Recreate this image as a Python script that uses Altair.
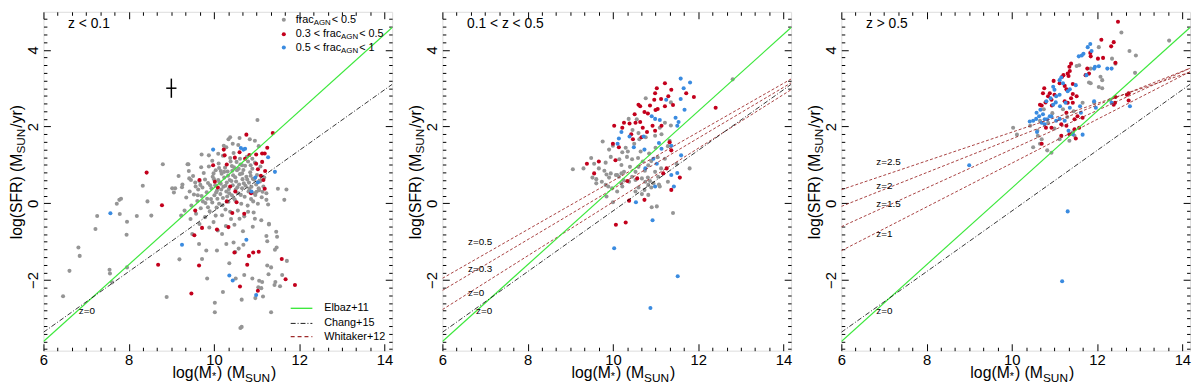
import altair as alt
import pandas as pd

FONT = "Liberation Sans"
X_DOMAIN = [6.0, 14.18]
Y_DOMAIN = [-3.84, 4.99]
W, H = 354, 344

X_MAJOR = [6, 8, 10, 12, 14]
X_MINOR = [6.333, 6.667, 7, 7.333, 7.667, 8.333, 8.667, 9, 9.333, 9.667,
           10.333, 10.667, 11, 11.333, 11.667, 12.333, 12.667, 13, 13.333, 13.667]
Y_MAJOR = [-2, 0, 2, 4]
Y_MINOR = [-3.8, -3.6, -3.4, -3.2, -3, -2.8, -2.6, -2.4, -2.2, -1.8, -1.6, -1.4, -1.2, -1,
           -0.8, -0.6, -0.4, -0.2, 0.2, 0.4, 0.6, 0.8, 1, 1.2, 1.4, 1.6, 1.8, 2.2, 2.4, 2.6,
           2.8, 3, 3.2, 3.4, 3.6, 3.8, 4.2, 4.4, 4.6, 4.8]

GRAY = "#959595"
RED = "#c3001c"
BLUE = "#3a8be0"
GREEN = "#3ee83e"
WRED = "#9e2b2b"
NB = "\u00a0"

# ---------------- panel 1 : z < 0.1 ----------------
GRAY1 = [
    (6.46, -2.42), (6.61, -1.76), (6.82, -1.15), (6.85, -1.37), (7.22, -0.67), (7.26, -0.33),
    (7.55, -1.73), (7.56, -1.83), (7.61, -2.06), (7.72, -0.01), (7.78, 0.09), (7.79, -0.28),
    (7.82, 0.12), (7.95, -0.82), (7.96, -0.48), (7.96, -1.67), (8.19, -0.33), (8.33, 0.46),
    (8.44, 0.05), (8.53, -0.32), (8.8, 1.02), (8.89, -2.44), (9.02, 0.39), (9.17, 0.71),
    (9.19, -1.46), (9.23, -0.32), (9.25, 0.42), (9.38, 1.02), (9.46, 0.61), (9.49, -0.8),
    (9.65, -1.06), (9.71, 1.27), (9.72, -1.45), (9.82, -1.23), (9.84, -1.96), (9.88, 1.25),
    (10.02, -2.59), (10.02, -2.84), (10.07, -1.23), (10.19, -0.8), (10.21, -2.31), (10.29, -1.06),
    (10.36, -1.56), (10.46, -1.02), (10.5, -1.27), (10.51, -1.96), (10.58, -1.18), (10.62, -3.25),
    (10.65, -3.22), (10.65, -2.51), (10.69, -1.08), (10.71, -1.87), (10.9, -1.96), (10.97, -2.47),
    (11.04, -2.19), (11.06, -2.02), (11.11, -2.21), (11.13, -2.05), (11.15, -2.43), (11.23, -0.85),
    (11.25, -0.99), (11.25, -1.62), (11.28, -1.85), (11.29, -0.55), (11.34, -1.67), (11.34, -2.84),
    (11.42, -2.13), (11.43, -1.21), (11.44, -2.05), (11.46, -0.74), (11.47, -1.15), (11.48, -0.87),
    (11.55, -2.16), (11.6, -1.87), (11.65, 0.09), (11.7, 0.36), (11.71, -1.5), (11.5, 0.38),
    (11.23, 0.09), (11.23, 0.26), (11.27, -0.03), (11.29, -0.53), (11.05, 0.39), (10.92, 0.05),
    (10.97, 0.22), (11.02, 2.17), (10.38, 1.72), (10.34, 1.67), (10.6, 1.7), (10.84, 1.67),
    (10.96, 1.63), (10.23, 1.5), (10.44, 1.55), (10.57, 1.52), (10.29, 1.46), (11.05, 1.49),
    (10.1, 1.29), (10.38, 1.18), (10.53, 1.08), (10.66, 0.99), (10.8, 1.09), (10.9, 1.16),
    (10.96, 1.06), (10.42, 0.97), (10.16, 0.84), (9.4, 1.02), (9.09, 0.39), (9.06, 0.28),
    (9.42, 0.65), (9.56, 0.54),
    (9.35, 0.15), (9.43, 0.31), (9.47, -0.06), (9.53, 0.23), (9.57, 0.44), (9.58, -0.27),
    (9.61, 0.06), (9.63, 0.36), (9.66, 0.58), (9.69, -0.13), (9.71, 0.19), (9.73, 0.41),
    (9.76, 0.79), (9.79, -0.36), (9.8, 0.01), (9.83, 0.29), (9.86, 0.53), (9.88, 0.96),
    (9.9, -0.21), (9.93, 0.11), (9.94, 0.39), (9.97, 0.69), (9.99, -0.49), (10.01, 0.21),
    (10.03, 0.47), (10.04, 0.86), (10.06, -0.11), (10.07, 0.33), (10.1, 0.61), (10.11, 1.04),
    (10.12, -0.01), (10.15, 0.24), (10.16, 0.51), (10.18, 0.77), (10.19, -0.31), (10.21, 0.14),
    (10.22, 0.43), (10.24, 0.67), (10.26, 0.93), (10.27, -0.16), (10.29, 0.31), (10.3, 0.54),
    (10.32, 0.83), (10.34, 0.04), (10.35, 0.37), (10.37, 0.61), (10.39, 1.09), (10.4, -0.41),
    (10.42, 0.21), (10.44, 0.47), (10.45, 0.73), (10.47, 0.94), (10.49, 0.09), (10.51, 0.36),
    (10.52, 0.57), (10.54, 0.86), (10.56, -0.19), (10.57, 0.26), (10.59, 0.49), (10.61, 0.76),
    (10.62, 1.01), (10.64, -0.01), (10.66, 0.39), (10.67, 0.63), (10.69, 0.87), (10.71, -0.34),
    (10.72, 0.17), (10.74, 0.46), (10.76, 0.69), (10.77, 1.21), (10.79, -0.06), (10.81, 0.31),
    (10.82, 0.54), (10.85, 0.81), (10.87, 0.11), (10.88, 0.43), (10.91, 0.64), (10.93, -0.24),
    (10.95, 0.26), (10.99, 0.49), (11.01, 0.74), (11.03, -0.01), (11.06, 0.34), (11.08, 0.57),
    (11.11, -0.44), (11.12, 0.16), (11.16, 0.44), (11.18, 0.67), (9.45, -0.41), (9.66, -0.54),
    (9.89, -0.63), (10.09, -0.71), (10.28, -0.59), (10.48, -0.56), (10.68, -0.73), (10.91, -0.61),
    (9.31, -0.19), (9.51, 0.71), (9.7, 0.94), (9.96, 1.11), (10.21, 1.24), (10.46, 1.31),
    (10.61, 1.16), (10.86, 0.99), (11.09, 0.96), (9.26, 0.49), (9.41, 0.84),
    (9.62, 0.21), (9.68, 0.48), (9.74, 0.05), (9.79, 0.62), (9.84, 0.12), (9.91, 0.47),
    (9.96, 0.02), (10.0, 0.63), (10.05, 0.28), (10.08, 0.12), (10.13, 0.55), (10.17, 0.36),
    (10.2, -0.05), (10.24, 0.82), (10.27, 0.46), (10.31, 0.18), (10.33, 0.72), (10.36, 0.26),
    (10.41, 0.58), (10.43, 0.85), (10.46, 0.14), (10.5, 0.68), (10.55, 0.42), (10.58, 0.9),
    (10.63, 0.22), (10.66, 0.78), (10.7, 0.52), (10.73, 0.98), (10.78, 0.62), (10.83, 0.38),
    (10.86, 0.72), (10.9, 0.9), (10.94, 0.62), (11.0, 0.3), (10.12, 0.92), (9.99, 0.78),
    (9.86, -0.1), (10.04, -0.32), (10.38, -0.22), (10.6, -0.4), (10.8, -0.22), (10.96, -0.4),
    (11.1, 0.6), (11.14, 0.3),
]
RED1 = [
    (8.42, 0.8), (8.78, -0.05), (8.69, -1.6), (9.47, -2.35), (9.56, -0.19), (9.54, -0.83),
    (9.65, -1.62), (9.72, -0.64), (10.07, -0.68), (10.48, -1.28), (10.34, -0.62), (10.61, -2.17),
    (10.78, -1.6), (10.82, -1.37), (10.92, -1.28), (11.05, -1.26), (11.03, -2.28), (11.59, -1.45),
    (11.68, -1.98), (11.9, -2.13), (11.38, 1.83), (10.76, 1.79), (10.23, 1.4), (11.25, 1.45),
    (11.13, 1.3), (11.19, 1.3), (10.99, 1.27), (10.83, 1.26), (10.25, 1.25), (10.49, 1.19),
    (10.6, 1.33), (10.73, 1.16), (10.3, 1.01), (9.98, 0.99), (10.99, 1.03), (11.13, 1.08),
    (11.03, 0.89), (11.2, 0.84), (11.1, 0.72), (11.16, 0.61), (11.19, 0.38), (9.66, 0.61),
    (10.02, 0.56), (10.09, 0.41), (10.38, 0.44), (10.5, 0.31), (10.87, 0.26), (10.3, 0.05),
    (10.53, 0.03), (10.43, -0.25), (10.71, -0.27),
]
BLUE1 = [
    (7.57, -0.26), (9.25, -1.08), (10.36, -1.88), (10.44, -2.01), (10.76, -0.95), (10.99, -2.39),
    (9.98, 1.4), (10.63, 1.44), (10.69, 1.4), (10.73, 1.42), (11.27, 1.2), (11.43, 0.82),
    (10.97, 0.67), (11.03, 0.55), (10.88, 0.31),
]

# ---------------- panel 2 : 0.1 < z < 0.5 ----------------
GRAY2 = [
    (9.06, 0.89), (9.31, 0.91), (9.49, 1.18), (9.56, 1.03), (9.67, 0.91), (9.83, 1.06),
    (9.95, 1.21), (9.91, 1.4), (10.22, 1.33), (10.33, 1.21), (10.45, 1.15), (10.59, 1.18),
    (10.7, 1.09), (10.83, 0.99), (10.53, 0.82), (10.26, 0.82), (10.1, 0.74), (9.91, 0.67),
    (9.74, 0.56), (9.61, 0.63), (10.68, 0.65), (10.45, 0.69), (10.99, 0.82), (11.13, 0.91),
    (11.22, 1.16), (11.49, 1.03), (11.8, 0.91), (10.83, 0.48), (11.1, 0.44), (11.29, 0.56),
    (9.76, 1.61), (10.56, 2.19), (10.37, 2.2), (11.22, 2.1), (11.1, 1.97), (11.36, 2.03),
    (10.46, 1.91), (10.6, 1.83), (10.99, 1.76), (11.14, 1.8), (11.33, 1.63), (11.29, 1.49),
    (10.62, 1.67), (10.77, 1.72), (10.77, 2.74), (11.36, 2.63), (9.52, 0.67), (9.61, 0.52),
    (9.85, 0.75), (9.95, 0.78), (10.07, 0.74), (10.14, 0.69), (10.2, 0.78), (9.83, 0.48),
    (9.89, 0.44), (9.98, 0.39), (10.2, 0.52), (10.25, 0.61), (10.38, 0.56), (10.53, 0.61),
    (10.76, 0.56), (10.82, 0.67), (10.87, 0.58), (10.95, 0.52), (11.06, 0.69), (11.08, 0.49),
    (10.9, 0.41), (10.74, 0.35), (10.68, 0.24), (10.83, 0.22), (10.91, -0.1), (11.03, -0.08),
    (11.41, -0.25), (9.85, 0.18), (10.0, 0.03), (10.1, 0.31), (10.22, 0.44), (10.53, 0.31),
    (10.6, 0.41), (12.81, 3.23), (10.0, 1.5), (10.3, 1.45), (10.5, 1.55), (10.65, 1.35),
    (10.85, 1.3), (11.0, 1.45), (10.2, 1.0), (10.4, 0.95), (10.6, 0.95), (10.9, 1.1),
    (10.75, 0.85), (11.05, 1.2), (9.8, 0.85), (10.15, 1.15), (10.35, 1.35),
]
RED2 = [
    (11.22, 3.13), (11.03, 3.0), (11.37, 2.96), (10.99, 2.87), (11.72, 2.87), (11.9, 2.77),
    (11.3, 2.79), (11.13, 2.72), (10.97, 2.7), (10.87, 2.55), (10.6, 2.57), (10.64, 2.53),
    (11.05, 2.46), (11.0, 2.43), (11.22, 2.53), (11.41, 2.56), (10.74, 2.38), (10.82, 2.34),
    (10.51, 2.32), (10.26, 2.1), (10.39, 2.08), (10.53, 2.1), (10.64, 2.12), (10.03, 2.02),
    (10.22, 1.97), (10.7, 1.97), (10.8, 1.86), (10.99, 1.89), (10.93, 2.02), (11.14, 2.02),
    (10.43, 1.8), (10.47, 1.67), (10.67, 1.72), (11.33, 1.59), (11.37, 1.38), (10.14, 1.46),
    (9.67, 1.09), (9.56, 0.78), (9.39, 1.03), (10.0, 1.55), (10.06, 1.12), (11.26, 0.91),
    (11.57, 0.67), (11.37, 0.35), (12.41, 2.49), (10.34, 0.58), (10.57, 0.65), (11.18, 0.78),
    (10.38, 0.07), (10.74, 0.09), (10.07, -0.56), (10.3, -0.5),
]
BLUE2 = [
    (11.59, 3.25), (11.81, 3.15), (11.66, 3.0), (11.25, 2.7), (11.59, 2.72), (11.68, 2.44),
    (10.91, 2.27), (10.99, 2.2), (11.1, 2.17), (11.47, 2.23), (11.54, 2.12), (11.51, 2.02),
    (10.2, 1.86), (10.14, 1.69), (10.11, 1.55), (10.39, 1.74), (10.72, 1.74), (10.49, 1.46),
    (10.74, 1.4), (11.08, 1.57), (11.14, 1.42), (11.37, 1.5), (10.95, 1.16), (11.03, 1.03),
    (10.76, 0.91), (11.37, 0.74), (11.6, 1.25), (11.51, 0.79), (11.43, 0.44), (10.99, 0.44),
    (10.54, 0.03), (10.93, -0.44), (10.03, -1.17), (11.52, -1.9), (10.88, -2.73),
]

# ---------------- panel 3 : z > 0.5 ----------------
GRAY3 = [
    (10.03, 1.97), (10.12, 1.79), (10.43, 2.02), (10.66, 2.15), (10.6, 1.89), (10.61, 1.76),
    (10.7, 1.67), (10.5, 1.46), (10.66, 1.55), (10.83, 1.38), (10.93, 1.32), (11.12, 1.67),
    (11.43, 1.85), (11.47, 1.76), (11.35, 1.63), (11.66, 2.62), (11.93, 2.62), (12.04, 4.07),
    (12.35, 3.77), (12.76, 3.97), (12.91, 3.85), (12.89, 3.4), (11.85, 3.51), (11.81, 3.15),
    (11.85, 3.13), (12.08, 3.3), (12.12, 3.21), (12.04, 3.03), (11.58, 3.6), (11.52, 3.58),
    (12.57, 4.45), (13.69, 4.24), (12.43, 3.64), (12.12, 3.0), (12.31, 2.7), (10.75, 2.45),
    (10.95, 2.35), (11.2, 2.45), (11.45, 2.4), (11.3, 2.25), (10.85, 2.1), (11.0, 1.95),
]
RED3 = [
    (12.49, 4.73), (12.1, 4.26), (12.39, 4.2), (12.33, 4.09), (12.43, 3.66), (12.02, 3.77),
    (12.14, 3.79), (11.84, 3.92), (11.85, 3.83), (11.77, 3.51), (11.81, 3.38), (11.73, 3.34),
    (11.39, 3.64), (11.35, 3.56), (11.36, 3.45), (11.21, 3.34), (11.33, 3.32), (11.18, 3.3),
    (11.31, 3.38), (10.98, 3.19), (11.12, 3.13), (11.24, 3.06), (11.43, 3.11), (11.28, 2.97),
    (11.43, 2.85), (11.39, 2.74), (11.52, 2.79), (11.43, 2.62), (10.76, 3.0), (10.73, 2.87),
    (10.89, 2.87), (10.85, 2.79), (11.0, 2.83), (10.93, 2.7), (10.79, 2.63), (10.66, 2.57),
    (10.7, 2.55), (10.94, 2.55), (11.24, 2.66), (11.31, 2.62), (11.28, 2.36), (11.54, 2.27),
    (11.47, 2.19), (11.66, 2.23), (12.43, 2.77), (12.7, 2.83), (12.42, 2.62), (12.74, 2.68),
    (10.7, 1.55), (10.8, 1.97), (10.93, 1.97), (11.16, 1.76), (11.28, 2.02), (11.35, 1.8),
    (11.5, 1.69), (11.47, 1.93), (11.58, 1.97), (11.16, 2.06), (12.74, 2.87), (12.39, 2.57),
]
BLUE3 = [
    (11.84, 4.15), (11.78, 4.07), (11.68, 3.9), (11.57, 3.83), (11.64, 3.85), (11.87, 3.97),
    (12.04, 3.57), (11.95, 3.56), (12.24, 3.51), (12.34, 3.51), (11.75, 3.34), (11.93, 3.51),
    (10.97, 3.04), (11.0, 2.96), (11.12, 3.21), (11.16, 3.28), (11.2, 3.13), (11.04, 2.79),
    (10.91, 2.74), (10.97, 2.57), (10.81, 2.66), (10.67, 2.44), (10.58, 2.36), (10.64, 2.27),
    (10.73, 2.32), (10.77, 2.19), (10.5, 2.15), (10.89, 2.27), (11.12, 2.83), (11.36, 2.97),
    (11.5, 3.08), (11.31, 2.92), (11.03, 2.63), (11.13, 2.53), (11.26, 2.62), (11.36, 2.49),
    (11.62, 2.36), (11.6, 2.53), (11.97, 2.49), (11.93, 2.66), (12.34, 2.62), (12.77, 2.53),
    (10.42, 2.13), (10.57, 2.2), (10.59, 1.86), (10.7, 2.1), (10.77, 2.06), (10.83, 2.19),
    (10.93, 2.26), (11.04, 2.15), (11.12, 2.2), (11.24, 2.15), (11.33, 1.89), (11.43, 1.8),
    (11.66, 1.79), (9.0, 0.99), (11.31, -0.21), (11.18, -2.03),
]

# ---------------- relations (end points) ----------------
LINE_X = [6.0, 14.18]
ELBAZ_Y = [-3.6, 4.58]
CHANG_Y = [-3.36, 3.10]
WHITAKER = {
    "0": [-2.77, 2.96],
    "0.3": [-2.27, 3.14],
    "0.5": [-1.955, 3.24],
    "1": [-1.235, 3.43],
    "1.5": [-0.61, 3.52],
    "2": [-0.08, 3.52],
    "2.5": [0.355, 3.42],
}
LABELS1 = [("z=0", 6.83, -2.82)]
LABELS2 = [("z=0.5", 6.6, -1.02), ("z=0.3", 6.6, -1.72), ("z=0", 6.6, -2.33), ("z=0", 6.79, -2.81)]
LABELS3 = [("z=2.5", 6.82, 1.08), ("z=2", 6.82, 0.44), ("z=1.5", 6.82, -0.03), ("z=1", 6.82, -0.8), ("z=0", 6.82, -2.81)]
ERRBAR = {"x": 9.0, "y": 3.0, "xerr": 0.12, "yerr": 0.25}

# ---------------- helpers ----------------
ONE = pd.DataFrame({"a": [0]})
AW = {" ": 278, NB: 278, "(": 333, ")": 333, "*": 389, "/": 278, ".": 278, "<": 584, ">": 584,
      "=": 584, "+": 584, "A": 667, "G": 778, "N": 722, "M": 833, "S": 667, "U": 722, "F": 611,
      "R": 722, "E": 667, "C": 722, "W": 944, "a": 556, "b": 556, "c": 500, "e": 556, "f": 278,
      "g": 556, "h": 556, "i": 222, "k": 500, "l": 222, "n": 556, "o": 556, "r": 333, "t": 278,
      "y": 500, "z": 500}


def tw(s, size):
    return sum(AW.get(c, 556) for c in s) * size / 1000.0


def txt(s, x, y, size, angle=0, align="left", baseline="middle"):
    return alt.Chart(ONE).mark_text(
        text=s, fontSize=size, font=FONT, align=align, baseline=baseline, angle=angle, color="black"
    ).encode(x=alt.value(x), y=alt.value(y))


def rich(pieces, x0, y0, angle=0, baseline="middle"):
    out, pos = [], 0.0
    for s, size, shift in pieces:
        if angle == 0:
            out.append(txt(s, x0 + pos, y0 + shift, size, 0, "left", baseline))
        else:
            out.append(txt(s, x0 + shift, y0 - pos, size, angle, "left", baseline))
        pos += tw(s, size) + (1.0 if shift else 0.0)
    return out


XS = alt.Scale(domain=X_DOMAIN, nice=False, zero=False)
YS = alt.Scale(domain=Y_DOMAIN, nice=False, zero=False)
BASE_AX = dict(grid=False, domain=False, minExtent=0, tickColor="black", tickWidth=1,
               labelFlush=False, labelOverlap=False, title=None)
MAJ, MIN = 7, 3.5


def ax(kind):
    if kind == "bm":
        return alt.Axis(orient="bottom", values=X_MAJOR, tickSize=MAJ, offset=-MAJ, labelFont=FONT,
                        labelFontSize=15, labelColor="black", labelPadding=2, **BASE_AX)
    if kind == "bn":
        return alt.Axis(orient="bottom", values=X_MINOR, tickSize=MIN, offset=-MIN, labels=False, **BASE_AX)
    if kind == "tm":
        return alt.Axis(orient="top", values=X_MAJOR, tickSize=MAJ, offset=-MAJ, labels=False, **BASE_AX)
    if kind == "tn":
        return alt.Axis(orient="top", values=X_MINOR, tickSize=MIN, offset=-MIN, labels=False, **BASE_AX)
    if kind == "lm":
        return alt.Axis(orient="left", values=Y_MAJOR, tickSize=MAJ, offset=-MAJ, labelFont=FONT,
                        labelFontSize=15, labelColor="black", labelPadding=3, labelAngle=270,
                        labelAlign="center", labelBaseline="bottom", **BASE_AX)
    if kind == "ln":
        return alt.Axis(orient="left", values=Y_MINOR, tickSize=MIN, offset=-MIN, labels=False, **BASE_AX)
    if kind == "rm":
        return alt.Axis(orient="right", values=Y_MAJOR, tickSize=MAJ, offset=-MAJ, labels=False, **BASE_AX)
    if kind == "rn":
        return alt.Axis(orient="right", values=Y_MINOR, tickSize=MIN, offset=-MIN, labels=False, **BASE_AX)


def enc_xy(xa, ya, xf="x", yf="y"):
    return dict(
        x=alt.X(f"{xf}:Q", scale=XS, axis=ax(xa) if xa else None, title=None),
        y=alt.Y(f"{yf}:Q", scale=YS, axis=ax(ya) if ya else None, title=None),
    )


def panel(gray, red, blue, wz, labels, title, extra=None):
    pts = pd.DataFrame(
        [(x, y, "g") for x, y in gray] + [(x, y, "r") for x, y in red] + [(x, y, "b") for x, y in blue],
        columns=["x", "y", "c"],
    )
    pts_layer = alt.Chart(pts).mark_circle(size=17, opacity=1, clip=True).encode(
        color=alt.Color("c:N", scale=alt.Scale(domain=["g", "r", "b"], range=[GRAY, RED, BLUE]), legend=None),
        **enc_xy("bm", "lm"),
    )
    green = alt.Chart(pd.DataFrame({"x": LINE_X, "y": ELBAZ_Y})).mark_line(
        color=GREEN, strokeWidth=1.2, clip=True
    ).encode(**enc_xy("bn", "ln"))
    chang = alt.Chart(pd.DataFrame({"x": LINE_X, "y": CHANG_Y})).mark_line(
        color="black", strokeWidth=0.8, strokeDash=[5, 2, 1, 2], clip=True
    ).encode(**enc_xy("tm", "rm"))
    lab = alt.Chart(pd.DataFrame(labels, columns=["t", "x", "y"])).mark_text(
        fontSize=10, font=FONT, align="left", baseline="middle", color="black"
    ).encode(text="t:N", **enc_xy("tn", "rn"))
    layers = [pts_layer, green, chang, lab]
    if wz:
        wdf = pd.DataFrame(
            [(z, LINE_X[i], WHITAKER[z][i]) for z in wz for i in range(2)], columns=["z", "x", "y"]
        )
        layers.insert(1, alt.Chart(wdf).mark_line(
            color=WRED, strokeWidth=0.9, strokeDash=[3, 2], clip=True
        ).encode(detail="z:N", **enc_xy(None, None)))
    layers.append(txt(title, 25, 12, 14))
    # axis titles with subscripts
    layers += rich([("log(M", 16, 0), ("*", 11, 2), (") (M", 16, 0), ("SUN", 12, 4), (")", 16, 0)],
                   131, 372, 0, "alphabetic")
    layers += rich([("log(SFR) (M", 16, 0), ("SUN", 12, 4), ("/yr)", 16, 0)], -27, 231, 270, "middle")
    if extra:
        layers += extra
    return alt.layer(*layers).resolve_axis(x="independent", y="independent").properties(width=W, height=H)


# panel-1 extras: error bar and legends
eb = ERRBAR
err_df = pd.DataFrame({
    "x": [eb["x"] - eb["xerr"], eb["x"]],
    "x2": [eb["x"] + eb["xerr"], eb["x"]],
    "y": [eb["y"], eb["y"] - eb["yerr"]],
    "y2": [eb["y"], eb["y"] + eb["yerr"]],
})
errbar = alt.Chart(err_df).mark_rule(color="black", strokeWidth=1.5).encode(
    x=alt.X("x:Q", scale=XS, axis=None), x2="x2:Q",
    y=alt.Y("y:Q", scale=YS, axis=None), y2="y2:Q",
)

extra1 = [errbar]
legend_pts = [(GRAY, 8, [("frac", 11, 0), ("AGN", 8, 3), (NB + "< 0.5", 11, 0)]),
              (RED, 22.7, [("0.3 < frac", 11, 0), ("AGN", 8, 3), (NB + "< 0.5", 11, 0)]),
              (BLUE, 36.3, [("0.5 < frac", 11, 0), ("AGN", 8, 3), (NB + "< 1", 11, 0)])]
for col, yy, pieces in legend_pts:
    extra1.append(alt.Chart(ONE).mark_circle(size=17, color=col, opacity=1).encode(
        x=alt.value(244), y=alt.value(yy)))
    extra1 += rich(pieces, 256, yy, 0, "middle")
legend_lines = [(GREEN, None, 1.4, 301, "Elbaz+11"),
                ("black", [5, 2, 1, 2], 0.9, 316.3, "Chang+15"),
                (WRED, [4, 3], 1.2, 329.7, "Whitaker+12")]
for col, dash, sw, yy, name in legend_lines:
    kw = dict(color=col, strokeWidth=sw)
    if dash:
        kw["strokeDash"] = dash
    extra1.append(alt.Chart(ONE).mark_rule(**kw).encode(
        x=alt.value(251), x2=alt.value(273), y=alt.value(yy)))
    extra1.append(txt(name, 285, yy, 11))

p1 = panel(GRAY1, RED1, BLUE1, [], LABELS1, "z < 0.1", extra1)
p2 = panel(GRAY2, RED2, BLUE2, ["0", "0.3", "0.5"], LABELS2, "0.1 < z < 0.5")
p3 = panel(GRAY3, RED3, BLUE3, ["1", "1.5", "2", "2.5"], LABELS3, "z > 0.5")

chart = alt.hconcat(p1, p2, p3, spacing=13).properties(
    padding=0, background="white"
).configure_view(stroke="black", strokeWidth=1).configure(font=FONT)

chart.save("out.html", embed_options={"renderer": "svg", "actions": False})
